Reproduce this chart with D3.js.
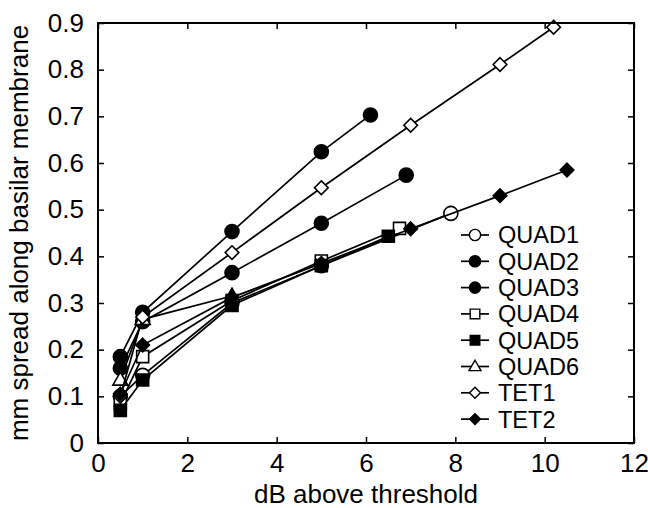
<!DOCTYPE html>
<html><head><meta charset="utf-8">
<script src="https://cdn.jsdelivr.net/npm/d3@7"></script>
<style>body{margin:0;background:#fff}svg{display:block}</style>
</head><body><svg id="c" width="648" height="508"></svg>
<script>
// ---- data ----
const seriesNames = ["QUAD1","QUAD2","QUAD3","QUAD4","QUAD5","QUAD6","TET1","TET2"];
const xQUAD1 = [0.5, 1.0, 3, 5, 7.9];
const yQUAD1 = [0.10, 0.145, 0.30, 0.38, 0.492];
const xQUAD2 = [0.5, 1.0, 3, 5, 6.1];
const yQUAD2 = [0.185, 0.28, 0.453, 0.624, 0.703];
const xQUAD3 = [0.5, 1.0, 3, 5, 6.9];
const yQUAD3 = [0.16, 0.26, 0.365, 0.471, 0.574];
const xQUAD4 = [0.5, 1.0, 3, 5, 6.75];
const yQUAD4 = [0.085, 0.185, 0.305, 0.39, 0.46];
const xQUAD5 = [0.5, 1.0, 3, 5, 6.5];
const yQUAD5 = [0.07, 0.135, 0.295, 0.38, 0.443];
const xQUAD6 = [0.5, 1.0, 3];
const yQUAD6 = [0.135, 0.265, 0.315];
const xTET1 = [0.5, 1.0, 3, 5, 7, 9, 10.2];
const yTET1 = [0.10, 0.27, 0.408, 0.547, 0.681, 0.811, 0.891];
const xTET2 = [0.5, 1.0, 3, 5, 7, 9, 10.5];
const yTET2 = [0.105, 0.21, 0.312, 0.385, 0.459, 0.53, 0.585];
const xTicks = [0, 2, 4, 6, 8, 10, 12];
const yTicks = [0, 0.1, 0.2, 0.3, 0.4, 0.5, 0.6, 0.7, 0.8, 0.9];
const xLabel = "dB above threshold";
const yLabel = "mm spread along basilar membrane";

// ---- styles ----
const markerTypes = ["circle","circle","circle","square","square","triangle","diamond","diamond"];
const markerFilled = [false,true,true,false,true,false,false,true];

const seriesData = [
  [xQUAD1,yQUAD1],[xQUAD2,yQUAD2],[xQUAD3,yQUAD3],[xQUAD4,yQUAD4],
  [xQUAD5,yQUAD5],[xQUAD6,yQUAD6],[xTET1,yTET1],[xTET2,yTET2]
];

const m = {l: 98, r: 634, t: 23, b: 443};
const FONT = "Liberation Sans, Arial, Helvetica, sans-serif";
const FS = 26;
const LFS = 23.5;

const svg = d3.select("#c");
const x = d3.scaleLinear().domain([0, 12]).range([m.l, m.r]);
const y = d3.scaleLinear().domain([0, 0.9]).range([m.b, m.t]);

function markerPath(type, s) {
  if (type === "circle") {
    return `M${-s},0A${s},${s} 0 1,0 ${s},0A${s},${s} 0 1,0 ${-s},0Z`;
  } else if (type === "square") {
    return `M${-s},${-s}L${s},${-s}L${s},${s}L${-s},${s}Z`;
  } else if (type === "triangle") {
    return `M0,${-s*1.15}L${s*1.1},${s*0.75}L${-s*1.1},${s*0.75}Z`;
  } else {
    return `M0,${-s}L${s},0L0,${s}L${-s},0Z`;
  }
}
const markerSize = {circle: 7, square: 6, triangle: 6.8, diamond: 6.8};

const line = d3.line().x(d => x(d[0])).y(d => y(d[1]));
seriesData.forEach((sd, i) => {
  const pts = sd[0].map((v, j) => [v, sd[1][j]]);
  const g = svg.append("g");
  g.append("path").attr("d", line(pts)).attr("fill", "none")
    .attr("stroke", "#000").attr("stroke-width", 1.7);
  g.selectAll("path.m").data(pts).enter().append("path").attr("class", "m")
    .attr("transform", d => `translate(${x(d[0])},${y(d[1])})`)
    .attr("d", markerPath(markerTypes[i], markerSize[markerTypes[i]]))
    .attr("fill", markerFilled[i] ? "#000" : "#fff")
    .attr("stroke", "#000").attr("stroke-width", 1.6);
});

const fmtY = d => d === 0 ? "0" : d3.format(".1f")(d);
const axB = svg.append("g").attr("transform", `translate(0,${m.b})`)
  .call(d3.axisBottom(x).tickValues(xTicks).tickSizeInner(-6).tickSizeOuter(0).tickPadding(11));
const axT = svg.append("g").attr("transform", `translate(0,${m.t})`)
  .call(d3.axisTop(x).tickValues(xTicks).tickSizeInner(-6).tickSizeOuter(0).tickFormat(""));
const axL = svg.append("g").attr("transform", `translate(${m.l},0)`)
  .call(d3.axisLeft(y).tickValues(yTicks).tickSizeInner(-6).tickSizeOuter(0).tickPadding(14).tickFormat(fmtY));
const axR = svg.append("g").attr("transform", `translate(${m.r},0)`)
  .call(d3.axisRight(y).tickValues(yTicks).tickSizeInner(-6).tickSizeOuter(0).tickFormat(""));
[axB, axT, axL, axR].forEach(a => {
  a.select(".domain").remove();
  a.selectAll(".tick line").attr("stroke", "#000").attr("stroke-width", 1.5);
  a.selectAll("text").attr("font-family", FONT).attr("font-size", FS).attr("fill", "#000");
});
svg.append("rect").attr("x", m.l).attr("y", m.t).attr("width", m.r - m.l).attr("height", m.b - m.t)
  .attr("fill", "none").attr("stroke", "#000").attr("stroke-width", 2);

svg.append("text").attr("x", (m.l + m.r) / 2).attr("y", 503).attr("text-anchor", "middle")
  .attr("font-family", FONT).attr("font-size", FS).text(xLabel);
svg.append("text").attr("transform", `translate(28,${(m.t + m.b) / 2}) rotate(-90)`)
  .attr("text-anchor", "middle").attr("font-family", FONT).attr("font-size", FS).text(yLabel);

const legY0 = 235, legDy = 26.3, legX = 461;
seriesNames.forEach((nm, i) => {
  const yy = legY0 + i * legDy;
  const g = svg.append("g");
  g.append("line").attr("x1", legX).attr("x2", legX + 28).attr("y1", yy).attr("y2", yy)
    .attr("stroke", "#000").attr("stroke-width", 1.7);
  g.append("path").attr("transform", `translate(${legX + 14},${yy})`)
    .attr("d", markerPath(markerTypes[i], markerSize[markerTypes[i]] * 0.8))
    .attr("fill", markerFilled[i] ? "#000" : "#fff").attr("stroke", "#000").attr("stroke-width", 1.4);
  g.append("text").attr("x", legX + 37).attr("y", yy).attr("dy", "0.36em")
    .attr("font-family", FONT).attr("font-size", LFS).text(nm);
});
</script></body></html>
